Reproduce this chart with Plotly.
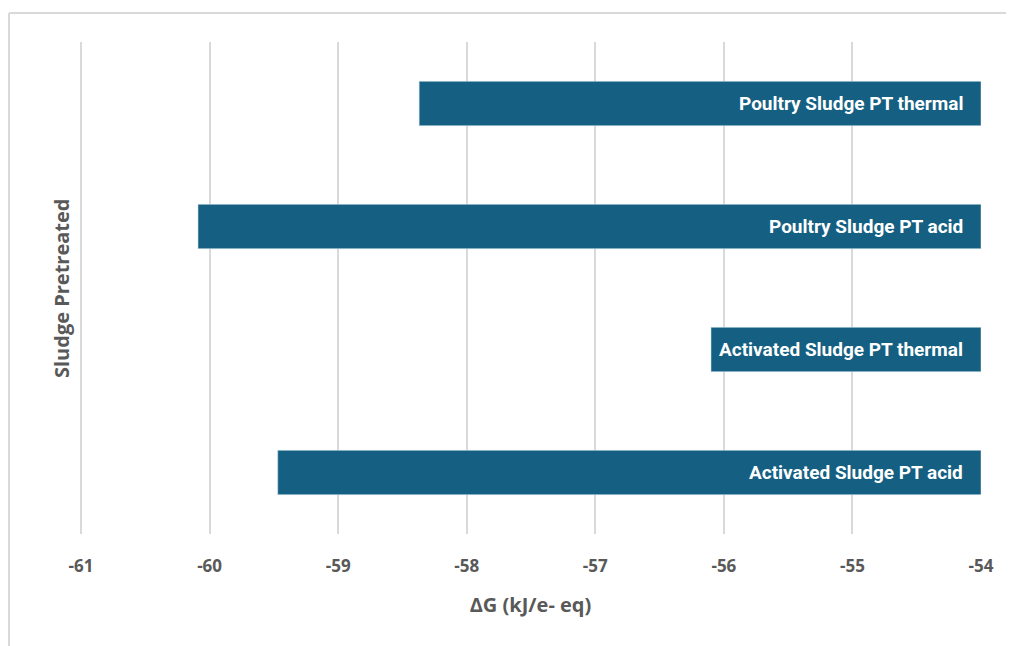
import plotly.graph_objects as go

categories = ["Activated Sludge PT acid", "Activated Sludge PT thermal",
              "Poultry Sludge PT acid", "Poultry Sludge PT thermal"]
values = [-59.47, -56.10, -60.09, -58.37]
base_value = -54
tick_vals = [-61, -60, -59, -58, -57, -56, -55, -54]
x_title = "ΔG (kJ/e- eq)"
y_title = "Sludge Pretreated"

BAR = "#156082"
GRID = "#d9d9d9"
TXT = "#595959"
FONT = "Open Sans, Liberation Sans, Arial, sans-serif"
NARROW = "Roboto, Liberation Sans Narrow, Arial Narrow, sans-serif"

fig = go.Figure()
fig.add_trace(go.Bar(
    y=categories,
    x=[v - base_value for v in values],
    base=base_value,
    orientation="h",
    marker=dict(color=BAR, line=dict(color="rgba(200,220,230,0.7)", width=0.8)),
    hoverinfo="skip",
))

for c in categories:
    fig.add_annotation(x=base_value, y=c, xref="x", yref="y", text="<b>" + c + "</b>",
                       showarrow=False, xanchor="right", xshift=-16,
                       font=dict(family=NARROW, size=19, color="white"))

fig.add_annotation(x=0, y=0.5, xref="paper", yref="paper", text="<b>" + y_title + "</b>",
                   textangle=-90, showarrow=False, xanchor="center", xshift=-19,
                   font=dict(family=FONT, size=20, color=TXT))

fig.update_layout(
    width=1014, height=646,
    margin=dict(l=72, r=41, t=34, b=120),
    paper_bgcolor="white", plot_bgcolor="white",
    bargap=0.64,
    showlegend=False,
    xaxis=dict(range=[-61.008, -54], tickvals=tick_vals, ticktext=["<b>%d</b>" % t for t in tick_vals],
               showgrid=True, gridcolor=GRID, gridwidth=2, zeroline=False,
               showline=False, ticks="", ticklabelstandoff=20,
               tickfont=dict(family=FONT, size=17, color=TXT),
               title=dict(text="<b>" + x_title + "</b>", standoff=21,
                          font=dict(family=FONT, size=20, color=TXT))),
    yaxis=dict(showticklabels=False, showgrid=False, zeroline=False, showline=False,
               ticks="", categoryorder="array", categoryarray=categories),
    shapes=[
        dict(type="line", xref="x", yref="paper", x0=tick_vals[0], x1=tick_vals[0], y0=0, y1=1,
             line=dict(color=GRID, width=2), layer="below"),
        dict(type="line", xref="paper", yref="paper", x0=-71/901, x1=1.05, y0=1 + 29/492, y1=1 + 29/492,
             line=dict(color="#d9d9d9", width=2)),
        dict(type="line", xref="paper", yref="paper", x0=-71/901, x1=-71/901, y0=1 + 29/492, y1=-0.3,
             line=dict(color="#d9d9d9", width=2)),
    ],
)

fig.write_html("out.html")
